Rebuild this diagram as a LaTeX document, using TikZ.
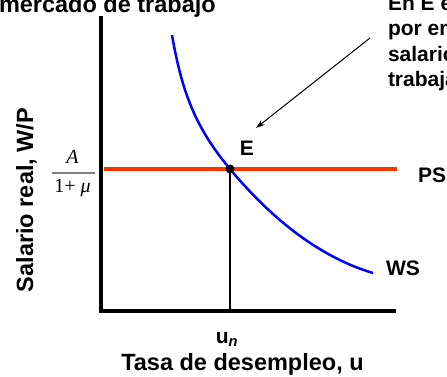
\documentclass[tikz,border=0pt]{standalone}
\usepackage{fontspec}
\setmainfont{Liberation Sans}
\newfontfamily\serifx{Liberation Serif}
\usetikzlibrary{arrows.meta}
\definecolor{psred}{RGB}{255,51,0}
\definecolor{wsblue}{RGB}{0,0,255}
\definecolor{bargray}{RGB}{128,128,128}
\begin{document}
\begin{tikzpicture}[x=1pt,y=-1pt,
  lbl/.style={font=\bfseries\fontsize{21}{24}\selectfont, inner sep=0pt, outer sep=0pt},
  big/.style={font=\bfseries\fontsize{23.5}{27}\selectfont, inner sep=0pt, outer sep=0pt},
  note/.style={font=\bfseries\fontsize{21}{24}\selectfont, inner sep=0pt, outer sep=0pt, anchor=base west},
  fr/.style={font=\serifx\fontsize{20}{22}\selectfont, inner sep=0pt, outer sep=0pt, anchor=base},
  axisline/.style={line width=4pt, black},
  psline/.style={line width=4pt, psred},
  wscurve/.style={line width=2.5pt, wsblue},
  dropline/.style={line width=1.8pt, black},
  pointer/.style={line width=1pt, black, -{Stealth[length=9pt,width=6pt]}},
  eqdot/.style={circle, fill=black, inner sep=0pt, minimum size=9pt}]
\useasboundingbox (0,0) rectangle (447,376);
% coordinates
\coordinate (ytop) at (101,16);
\coordinate (orig) at (101,311);
\coordinate (xend) at (396,311);
\coordinate (psl) at (104,169);
\coordinate (psr) at (397,169);
\coordinate (foot) at (230,311);
\coordinate (astart) at (370,38);
\coordinate (aend) at (256,128);
\coordinate (wstop) at (172,35);
\coordinate (wsend) at (373,273);
% axes
\draw[axisline] (ytop) -- (orig) -- (xend);
% PS line
\draw[psline] (psl) -- (psr);
% WS curve
\draw[wscurve] (wstop) .. controls (182,92) and (195,127) .. (230,169)
  .. controls (268,214.6) and (316,256) .. (wsend);
% equilibrium
\node[eqdot] (E) at (230,169) {};
\draw[dropline] (E.center) -- (foot);
% arrow
\draw[pointer] (astart) -- (aend);
% labels
\node[big, anchor=base west] (title) at (-1,12) {mercado de trabajo};
\node[note] (n1) at (388,10.5) {En E e};
\node[note] (n2) at (388,35.8) {por em};
\node[note] (n3) at (388,61.1) {salario};
\node[note] (n4) at (388,86.4) {trabaja};
\node[lbl, anchor=base] (Elab) at (247,155) {E};
\node[lbl, anchor=base west] (PS) at (418,182) {PS};
\node[lbl, anchor=base west] (WS) at (386,275) {WS};
\node[lbl, anchor=base] (un) at (227,343) {u\textsubscript{\textit{n}}};
\node[big, anchor=base] (xlab) at (242.5,370) {Tasa de desempleo, u};
\node[big, rotate=90, anchor=base] (ylab) at (33,200) {Salario real, W/P};
% fraction
\node[fr] (num) at (72.5,163) {\itshape A};
\node[fr] (den) at (72.5,192) {1+\ \itshape μ};
\draw[bargray, line width=1.3pt] (52,173) -- (95,173);
\end{tikzpicture}
\end{document}
